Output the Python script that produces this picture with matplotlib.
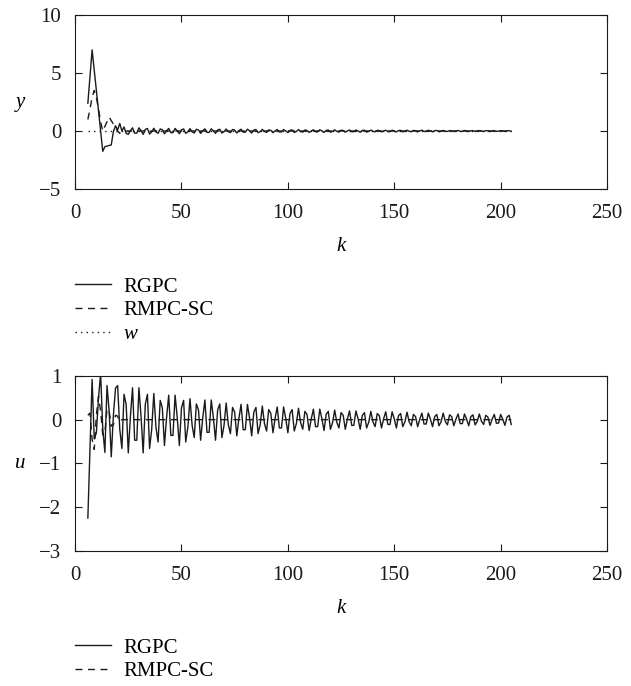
import matplotlib
matplotlib.use("Agg")
import matplotlib.pyplot as plt

plt.rcParams['font.family'] = ['Liberation Serif', 'DejaVu Serif']
plt.rcParams['mathtext.fontset'] = 'custom'
plt.rcParams['mathtext.it'] = 'Liberation Serif:italic'
plt.rcParams['mathtext.rm'] = 'Liberation Serif'
plt.rcParams['axes.unicode_minus'] = True

# sample index
k = list(range(6, 206))

# ---- output y (top panel) ----
y_rgpc = [
    2.4, 4.7, 7.0, 5.25, 3.5, 1.75, 0.0, -1.75, -1.35, -1.3, -1.25, -1.2, -0.05, 0.45,   # k 6-19
    0.1, 0.65, 0.0, 0.35, -0.2, -0.29, 0.03, 0.28, -0.18, -0.18, 0.28, 0.03, -0.29, 0.14, 0.22, -0.26, -0.08,  # 20-36
    0.24, -0.07, -0.20, 0.18, 0.11, -0.24, 0.02, 0.22, -0.14, -0.14, 0.22, 0.02, -0.24, 0.11, 0.18, -0.20, -0.07,
    0.20, -0.06, -0.17, 0.15, 0.09, -0.20, 0.02, 0.19, -0.12, -0.12, 0.19, 0.02, -0.20, 0.09, 0.15, -0.17, -0.06,
    0.17, -0.05, -0.14, 0.13, 0.08, -0.17, 0.02, 0.16, -0.10, -0.10, 0.16, 0.02, -0.17, 0.08, 0.13, -0.14, -0.05,
    0.14, -0.04, -0.12, 0.10, 0.06, -0.14, 0.01, 0.13, -0.08, -0.08, 0.13, 0.01, -0.14, 0.06, 0.10, -0.12, -0.04,
    0.12, -0.03, -0.10, 0.09, 0.05, -0.12, 0.01, 0.11, -0.07, -0.07, 0.11, 0.01, -0.12, 0.05, 0.09, -0.10, -0.03,
    0.10, -0.03, -0.09, 0.07, 0.05, -0.10, 0.01, 0.09, -0.06, -0.06, 0.09, 0.01, -0.10, 0.05, 0.07, -0.09, -0.03,
    0.08, -0.02, -0.07, 0.06, 0.04, -0.08, 0.01, 0.07, -0.05, -0.05, 0.07, 0.01, -0.08, 0.04, 0.06, -0.07, -0.02,
    0.07, -0.02, -0.06, 0.05, 0.03, -0.07, 0.01, 0.07, -0.04, -0.04, 0.07, 0.01, -0.07, 0.03, 0.05, -0.06, -0.02,
    0.05, -0.01, -0.04, 0.04, 0.02, -0.05, 0.00, 0.05, -0.03, -0.03, 0.05, 0.00, -0.05, 0.02, 0.04, -0.04, -0.01,
    0.04, -0.01, -0.03, 0.03, 0.02, -0.04, 0.00, 0.04, -0.02, -0.02, 0.04, 0.00, -0.04, 0.02, 0.03, -0.03,
]
y_rmpc_head = [1.0, 1.9, 2.9, 3.5, 2.9, 1.9, 0.8, 0.0, 0.4, 0.8, 1.2, 0.9, 0.6, 0.3, 0.0, -0.2, 0.0]  # k 6-22
y_rmpc = y_rmpc_head + [0.0] * (len(k) - len(y_rmpc_head))
w_ref = [0.0] * len(k)

# ---- control u (bottom panel) ----
u_rgpc = [
    -2.25, -0.66, 0.92, -0.44, -0.3, 0.5, 1.05, -0.2, -0.75, 0.78, 0.2, -0.85, 0.1, 0.72,   # k 6-19
    0.78, -0.22, -0.66, 0.58, 0.35, -0.76, 0.07, 0.73, -0.47, -0.47, 0.73, 0.07, -0.76, 0.35, 0.58, -0.66, -0.22,
    0.60, -0.17, -0.51, 0.44, 0.27, -0.59, 0.05, 0.56, -0.36, -0.36, 0.56, 0.05, -0.59, 0.27, 0.44, -0.51, -0.17,
    0.48, -0.13, -0.41, 0.36, 0.22, -0.47, 0.04, 0.45, -0.29, -0.29, 0.45, 0.04, -0.47, 0.22, 0.36, -0.41, -0.13,
    0.38, -0.11, -0.32, 0.28, 0.17, -0.37, 0.03, 0.35, -0.23, -0.23, 0.35, 0.03, -0.37, 0.17, 0.28, -0.32, -0.11,
    0.31, -0.09, -0.26, 0.23, 0.14, -0.30, 0.03, 0.29, -0.19, -0.19, 0.29, 0.03, -0.30, 0.14, 0.23, -0.26, -0.09,
    0.26, -0.07, -0.22, 0.19, 0.12, -0.25, 0.02, 0.24, -0.16, -0.16, 0.24, 0.02, -0.25, 0.12, 0.19, -0.22, -0.07,
    0.22, -0.06, -0.19, 0.16, 0.10, -0.22, 0.02, 0.20, -0.13, -0.13, 0.20, 0.02, -0.22, 0.10, 0.16, -0.19, -0.06,
    0.19, -0.05, -0.16, 0.14, 0.09, -0.19, 0.02, 0.18, -0.11, -0.11, 0.18, 0.02, -0.19, 0.09, 0.14, -0.16, -0.05,
    0.17, -0.05, -0.14, 0.12, 0.07, -0.16, 0.01, 0.15, -0.10, -0.10, 0.15, 0.01, -0.16, 0.07, 0.12, -0.14, -0.05,
    0.15, -0.04, -0.12, 0.11, 0.07, -0.14, 0.01, 0.13, -0.09, -0.09, 0.13, 0.01, -0.14, 0.07, 0.11, -0.12, -0.04,
    0.13, -0.04, -0.11, 0.10, 0.06, -0.13, 0.01, 0.12, -0.08, -0.08, 0.12, 0.01, -0.13, 0.06, 0.10, -0.11,
]
u_rmpc_head = [0.1, 0.15, -0.45, -0.68, 0.1, 0.53, 0.2, -0.35, -0.3, 0.25, 0.2, -0.15, -0.12, 0.1, 0.08, -0.05]  # k 6-21
u_rmpc = u_rmpc_head + [0.0] * (len(k) - len(u_rmpc_head))

x_ticks = [0, 50, 100, 150, 200, 250]
y_ticks_top = [-5, 0, 5, 10]
u_ticks = [-3, -2, -1, 0, 1]

FS = 15
LC = '#1a1a1a'
LW = 1.0
DASH = (0, (5, 4))
DOT = (0, (1, 3))

fig = plt.figure(figsize=(6.31, 6.86), dpi=100)
ax1 = fig.add_axes([0.119, 0.7245, 0.843, 0.2535])
ax2 = fig.add_axes([0.119, 0.197, 0.843, 0.255])

l1, = ax1.plot(k, y_rgpc, color=LC, lw=LW, ls='-', label='RGPC')
l2, = ax1.plot(k, y_rmpc, color=LC, lw=LW, ls=DASH, label='RMPC-SC')
l3, = ax1.plot(k, w_ref, color=LC, lw=LW, ls=DOT, label='$w$')
m1, = ax2.plot(k, u_rgpc, color=LC, lw=LW, ls='-', label='RGPC')
m2, = ax2.plot(k, u_rmpc, color=LC, lw=LW, ls=DASH, label='RMPC-SC')

for ax, yt, yl in [(ax1, y_ticks_top, 'y'), (ax2, u_ticks, 'u')]:
    ax.set_xlim(0, 250)
    ax.set_ylim(yt[0], yt[-1])
    ax.set_xticks(x_ticks)
    ax.set_yticks(yt)
    ax.tick_params(direction='in', length=5, width=0.8, labelsize=FS,
                   top=True, right=True, pad=10, colors=LC)
    ax.tick_params(axis='x', pad=11)
    for s in ax.spines.values():
        s.set_linewidth(0.8)
        s.set_color(LC)
    ax.set_xlabel('k', fontsize=FS, fontstyle='italic', labelpad=10)
    ax.set_ylabel(yl, fontsize=FS, fontstyle='italic', rotation=0, va='center', ha='center')
    ax.yaxis.set_label_coords(-0.103, 0.5)

fig.legend(handles=[l1, l2, l3], loc='upper left', bbox_to_anchor=(0.119, 0.596),
           frameon=False, fontsize=FS, handlelength=1.7, handletextpad=0.6,
           labelspacing=0.2, borderpad=0, borderaxespad=0)
fig.legend(handles=[m1, m2], loc='upper left', bbox_to_anchor=(0.119, 0.070),
           frameon=False, fontsize=FS, handlelength=1.7, handletextpad=0.6,
           labelspacing=0.2, borderpad=0, borderaxespad=0)

fig.savefig('out.png', dpi=100)
